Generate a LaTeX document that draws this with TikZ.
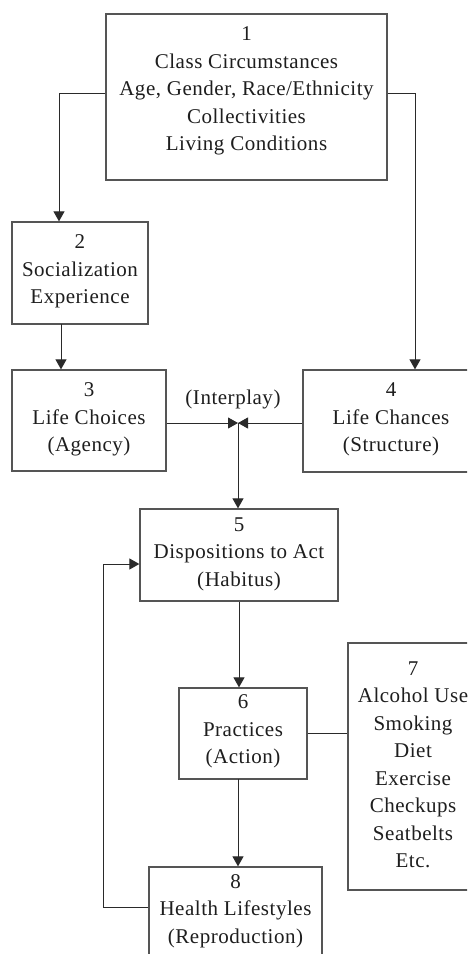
\documentclass[tikz,border=0pt]{standalone}
\usepackage{fontspec}
\setmainfont{Liberation Serif}[LetterSpace=2.5]
\usetikzlibrary{arrows.meta}
\definecolor{boxcol}{HTML}{555555}
\definecolor{linecol}{HTML}{2A2A2A}
\definecolor{txtcol}{HTML}{1E1E1E}
\begin{document}
\begin{tikzpicture}[x=1pt,y=-1pt,
  box/.style={draw=boxcol, line width=1.3pt, inner sep=0pt},
  txt/.style={align=center, text=txtcol, inner sep=0pt, font=\fontsize{21}{27.5}\selectfont},
  arr/.style={draw=linecol, line width=1pt, -{Triangle[width=11pt,length=10pt]}},
  conn/.style={draw=linecol, line width=1pt}]
\useasboundingbox (0,0) rectangle (467,954);
\clip (0,0) rectangle (467,954);
\fill[white] (0,0) rectangle (467,954);

% boxes
\node[box, minimum width=281pt, minimum height=166pt] (b1) at (246.5,97) {};
\node[box, minimum width=136pt, minimum height=102pt] (b2) at (80,273) {};
\node[box, minimum width=154pt, minimum height=101pt] (b3) at (89,420.5) {};
\node[box, minimum width=176pt, minimum height=102pt] (b4) at (391,421) {};
\node[box, minimum width=198pt, minimum height=92pt] (b5) at (239,555) {};
\node[box, minimum width=128pt, minimum height=91pt] (b6) at (243,733.5) {};
\node[box, minimum width=130pt, minimum height=247pt] (b7) at (413,766.5) {};
\node[box, minimum width=173pt, minimum height=91pt] (b8) at (235.5,912.5) {};

% texts
\node[txt] (t1) at (246.5,91) {1\\Class Circumstances\\Age, Gender, Race/Ethnicity\\Collectivities\\Living Conditions};
\node[txt] (t2) at (80,271.5) {2\\Socialization\\Experience};
\node[txt] (t3) at (89,419.5) {3\\Life Choices\\(Agency)};
\node[txt] (t4) at (391,419.5) {4\\Life Chances\\(Structure)};
\node[txt] (t5) at (239,554) {5\\Dispositions to Act\\(Habitus)};
\node[txt] (t6) at (243,731.5) {6\\Practices\\(Action)};
\node[txt] (t7) at (413,765) {7\\Alcohol Use\\Smoking\\Diet\\Exercise\\Checkups\\Seatbelts\\Etc.};
\node[txt] (t8) at (235.5,911) {8\\Health Lifestyles\\(Reproduction)};
\node[txt] (ti) at (233,399) {(Interplay)};

% helper coordinates
\coordinate (J) at (238,423);
\coordinate (L1) at (59,93);
\coordinate (R1) at (415,93);
\coordinate (X2) at (61,324);
\coordinate (X6) at (238,779);
\coordinate (Lb) at (103,907);
\coordinate (Lt) at (103,564);

% connectors
\draw[arr] (b1.west |- L1) -- (L1) -- (L1 |- b2.north);
\draw[arr] (b1.east |- R1) -- (R1) -- (R1 |- b4.north);
\draw[arr] (X2) -- (X2 |- b3.north);
\draw[arr] (b3.east |- J) -- (J);
\draw[arr] (b4.west |- J) -- (J);
\draw[arr] (J) -- (J |- b5.north);
\draw[arr] (b5.south) -- (b5.south |- b6.north);
\draw[conn] (b6.east) -- (b6.east -| b7.west);
\draw[arr] (X6) -- (X6 |- b8.north);
\draw[arr] (b8.west |- Lb) -- (Lb) -- (Lt) -- (Lt -| b5.west);
\end{tikzpicture}
\end{document}
